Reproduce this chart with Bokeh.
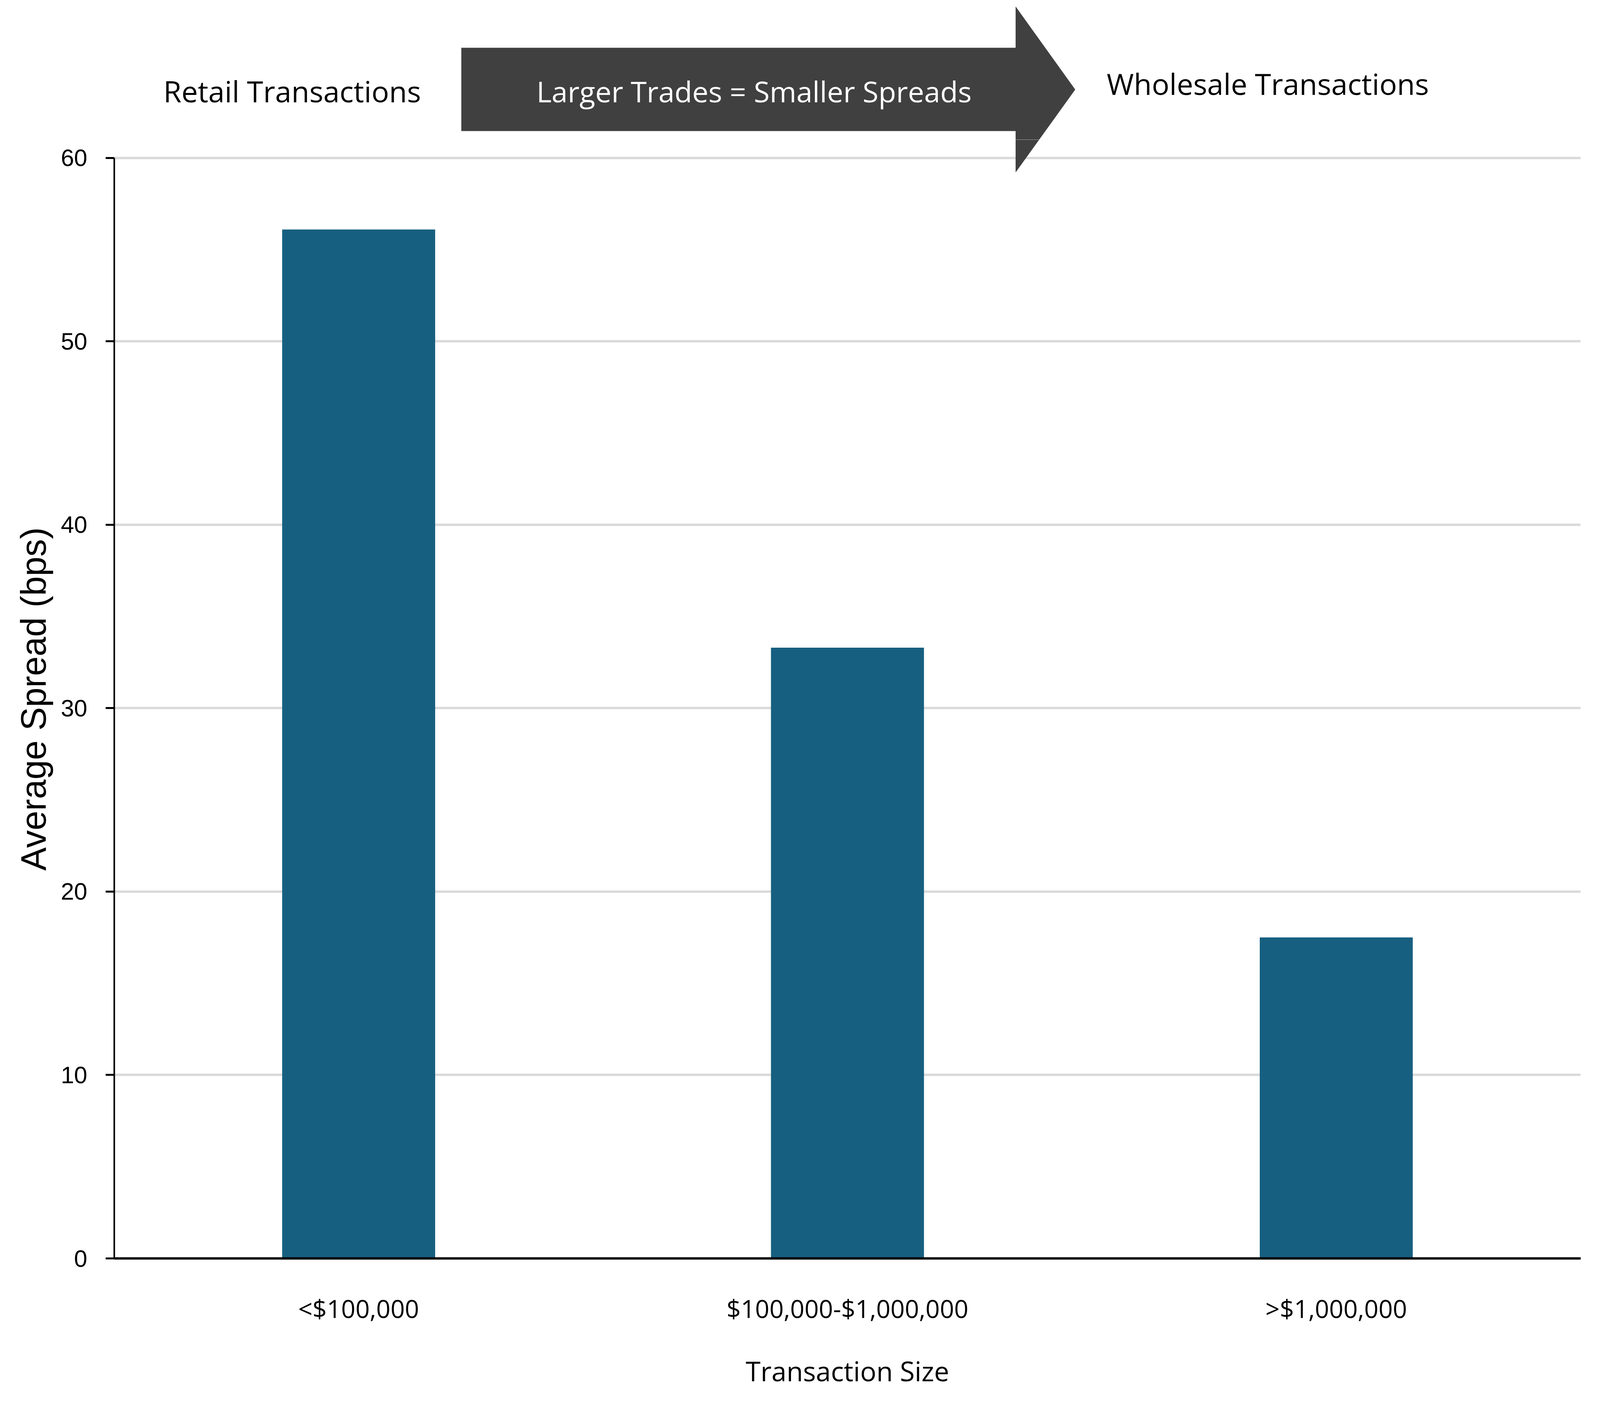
# bar chart: average spread by transaction size, with a "larger trades" arrow banner

from bokeh.plotting import figure
from bokeh.layouts import column
from bokeh.models import FactorRange, Range1d, FixedTicker, Label
from bokeh.embed import file_html
from bokeh.resources import INLINE

# ---- data
categories = ["<$100,000", "$100,000-$1,000,000", ">$1,000,000"]
spreads = [56.1, 33.3, 17.5]
y_ticks = [0, 10, 20, 30, 40, 50, 60]

# texts
y_title = "Average Spread (bps)"
x_title = "Transaction Size"
left_note = "Retail Transactions"
arrow_note = "Larger Trades = Smaller Spreads"
right_note = "Wholesale Transactions"

bar_color = "#175f80"
arrow_color = "#404040"
grid_color = "#d9d9d9"

# arrow banner outline (layout only, in plot units, shared by both panels)
arrow_x = [0.710, 1.844, 1.844, 1.966, 1.844, 1.844, 0.710]
arrow_y = [66.01, 66.01, 68.26, 63.73, 59.21, 61.47, 61.47]

x_range = FactorRange(factors=categories, range_padding=0)

# ---- top strip: banner with the arrow (same x and y scale as the chart)
top = figure(x_range=x_range, y_range=Range1d(61.0, 68.6),
             width=4080, height=357,
             x_axis_location=None, y_axis_location=None,
             output_backend="svg", toolbar_location=None,
             min_border_left=292, min_border_right=34,
             min_border_top=0, min_border_bottom=0)
top.outline_line_color = None
top.grid.visible = False
top.patch(arrow_x, arrow_y, fill_color=arrow_color, line_color=None)

top.add_layout(Label(x=0.364, y=63.64, text=left_note, text_align="center",
                     text_baseline="middle", text_font="Open Sans",
                     text_font_size="75px", text_color="black"))
top.add_layout(Label(x=1.309, y=63.64, text=arrow_note, text_align="center",
                     text_baseline="middle", text_font="Open Sans",
                     text_font_size="74px", text_color="white"))
top.add_layout(Label(x=2.360, y=64.05, text=right_note, text_align="center",
                     text_baseline="middle", text_font="Open Sans",
                     text_font_size="75px", text_color="black"))

# ---- main chart
p = figure(x_range=x_range, y_range=Range1d(0, 61.0),
           width=4080, height=3243,
           output_backend="svg", toolbar_location=None,
           min_border_left=292, min_border_right=34,
           min_border_top=0, min_border_bottom=379)
p.outline_line_color = None
p.background_fill_color = "white"

# bars
p.vbar(x=categories, top=spreads, width=0.313, fill_color=bar_color, line_color=None)

# lower part of the arrow head reaches into the chart
p.patch(arrow_x, arrow_y, fill_color=arrow_color, line_color=None)

# grid
p.xgrid.grid_line_color = None
p.ygrid.grid_line_color = grid_color
p.ygrid.grid_line_width = 6

# y axis
p.yaxis.ticker = FixedTicker(ticks=y_ticks)
p.yaxis.bounds = (0, 60)
p.yaxis.axis_line_color = "black"
p.yaxis.axis_line_width = 4
p.yaxis.major_tick_line_color = "black"
p.yaxis.major_tick_line_width = 5
p.yaxis.major_tick_in = 0
p.yaxis.major_tick_out = 22
p.yaxis.minor_tick_line_color = None
p.yaxis.major_label_standoff = 47
p.yaxis.major_label_text_font = "Liberation Sans"
p.yaxis.major_label_text_font_size = "61px"
p.yaxis.major_label_text_color = "black"
p.yaxis.axis_label = y_title
p.yaxis.axis_label_text_font = "Liberation Sans"
p.yaxis.axis_label_text_font_size = "90px"
p.yaxis.axis_label_text_font_style = "normal"
p.yaxis.axis_label_text_color = "black"
p.yaxis.axis_label_standoff = 17

# x axis
p.xaxis.axis_line_color = "black"
p.xaxis.axis_line_width = 6
p.xaxis.major_tick_line_color = None
p.xaxis.major_tick_in = 0
p.xaxis.major_tick_out = 0
p.xaxis.major_label_standoff = 84
p.xaxis.major_label_text_font = "Open Sans"
p.xaxis.major_label_text_font_size = "64px"
p.xaxis.major_label_text_color = "black"
p.xaxis.axis_label = x_title
p.xaxis.axis_label_text_font = "Open Sans"
p.xaxis.axis_label_text_font_size = "69px"
p.xaxis.axis_label_text_font_style = "normal"
p.xaxis.axis_label_text_color = "black"
p.xaxis.axis_label_standoff = 66

layout = column(top, p, spacing=0)

open("out.html", "w").write(file_html(layout, INLINE))
